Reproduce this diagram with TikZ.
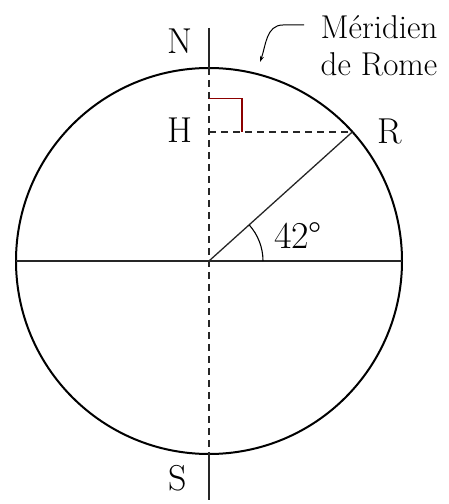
\documentclass[tikz,border=0pt]{standalone}
\usetikzlibrary{arrows.meta,calc}

\begin{document}
\begin{tikzpicture}[x=1pt, y=1pt,
    axe/.style={line width=1.3pt, black!85},
    pointille/.style={line width=1.3pt, black!85, dash pattern=on 7pt off 5pt},
    etiquette/.style={font=\fontsize{36}{40}\selectfont, inner sep=0pt}]

        \useasboundingbox (0,0) rectangle (449,504);

        % --- Points of the figure ---
        \coordinate (O) at (209,243);
        \coordinate (N) at (209,436);
        \coordinate (S) at (209,50);
        \coordinate (R) at ($(O)+(42:193)$);
        \coordinate (H) at (O |- R);
        \coordinate (W) at (16,243);
        \coordinate (E) at (402,243);
        \coordinate (haut) at (209,476);
        \coordinate (bas) at (209,4);

        % --- The meridian circle and the equator ---
        \draw[line width=2pt] (O) circle[radius=193];
        \draw[axe] (W) -- (E);

        % --- Polar axis: solid outside, dashed inside ---
        \draw[axe] (haut) -- (N);
        \draw[pointille] (N) -- (S);
        \draw[axe] (S) -- (bas);

        % --- Radius to Rome and its projection H ---
        \draw[axe] (O) -- (R);
        \draw[pointille] (H) -- (R);
        \draw[line width=1.2pt, red!55!black] ([yshift=33pt]H) -| ([xshift=33pt]H);

        % --- Latitude angle ---
        \draw[line width=1.1pt] ([xshift=54pt]O) arc[start angle=0, end angle=42, radius=54];
        \node[etiquette, font=\fontsize{38}{42}\selectfont] (angle) at (298,268) {42°};

        % --- Labels ---
        \node[etiquette] (lN) at (180,463) {N};
        \node[etiquette] (lH) at (180,374) {H};
        \node[etiquette] (lR) at (390,373) {R};
        \node[etiquette] (lS) at (178,26) {S};

        % --- Meridian label with its pointer ---
        \node[font=\fontsize{33}{37}\selectfont, align=center, inner sep=0pt] (meridien) at (379,458) {M\'eridien\\de Rome};
        \coordinate (m1) at (304,479);
        \coordinate (m2) at (260,442);
        \draw[line width=1pt, -{Stealth[length=6pt, width=4pt]}] (m1) -- ++(-21,0) to[out=180, in=70] (m2);

\end{tikzpicture}
\end{document}
